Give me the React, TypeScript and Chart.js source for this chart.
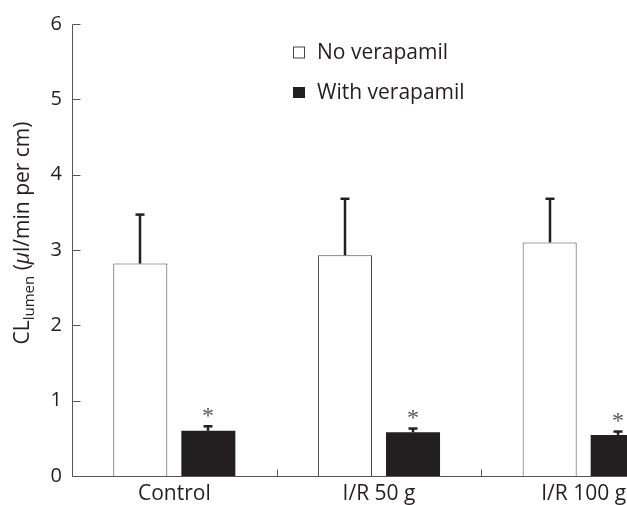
import { useEffect, useRef } from "react";
import { Chart, registerables } from "chart.js";

Chart.register(...registerables);

const categories = ["Control", "I/R 50 g", "I/R 100 g"];
const seriesNames = ["No verapamil", "With verapamil"];
const noVerapamil = [2.82, 2.93, 3.1];
const noVerapamilErr = [0.65, 0.75, 0.58];
const withVerapamil = [0.6, 0.58, 0.545];
const withVerapamilErr = [0.06, 0.05, 0.045];
const significant = [true, true, true];
const yTicks = [0, 1, 2, 3, 4, 5, 6];

const INK = "#231f20";
const AXIS = "#555555";
const FONT = "'Open Sans', 'Noto Sans', sans-serif";

const values = [noVerapamil, withVerapamil];
const errors = [noVerapamilErr, withVerapamilErr];

const customPlugin = {
  id: "customDraw",
  afterDatasetsDraw(chart: any) {
    const ctx = chart.ctx;
    const y = chart.scales.y;
    ctx.save();
    ctx.strokeStyle = INK;
    ctx.lineCap = "butt";
    [0, 1].forEach((di) => {
      const meta = chart.getDatasetMeta(di);
      meta.data.forEach((bar: any, i: number) => {
        const v = values[di][i];
        const e = errors[di][i];
        const px = Math.round(bar.x);
        const base = y.getPixelForValue(v);
        const top = y.getPixelForValue(v + e);
        ctx.lineWidth = 2.5;
        ctx.beginPath();
        ctx.moveTo(px, base);
        ctx.lineTo(px, top);
        ctx.stroke();
        ctx.beginPath();
        ctx.moveTo(px - 4.5, top);
        ctx.lineTo(px + 4.5, top);
        ctx.stroke();
        if (di === 1 && significant[i]) {
          ctx.fillStyle = "#555";
          ctx.font = "24px 'Liberation Serif', serif";
          ctx.textAlign = "center";
          ctx.textBaseline = "middle";
          ctx.fillText("*", px, top - 10);
        }
      });
    });
    ctx.restore();
  },
  afterDraw(chart: any) {
    const ctx = chart.ctx;
    const x = chart.scales.x;
    const y = chart.scales.y;
    const area = chart.chartArea;
    ctx.save();
    ctx.strokeStyle = AXIS;
    ctx.lineWidth = 1;
    const ax = Math.round(area.left) + 0.5;
    const y0 = Math.round(y.getPixelForValue(0)) + 0.5;
    ctx.beginPath();
    ctx.moveTo(ax, Math.round(y.getPixelForValue(yTicks[yTicks.length - 1])) + 0.5);
    ctx.lineTo(ax, y0);
    ctx.lineTo(chart.width, y0);
    ctx.stroke();
    yTicks.forEach((t) => {
      const py = Math.round(y.getPixelForValue(t)) + 0.5;
      ctx.beginPath();
      ctx.moveTo(ax, py);
      ctx.lineTo(ax + 8, py);
      ctx.stroke();
    });
    for (let i = 0; i < categories.length - 1; i++) {
      const bx = Math.round((x.getPixelForValue(i) + x.getPixelForValue(i + 1)) / 2) + 0.5;
      ctx.beginPath();
      ctx.moveTo(bx, y0);
      ctx.lineTo(bx, y0 - 7);
      ctx.stroke();
    }
    const lx = 293;
    const rows = [52.5, 92];
    ctx.font = `21px ${FONT}`;
    ctx.textAlign = "left";
    ctx.textBaseline = "middle";
    seriesNames.forEach((name, i) => {
      const cy = rows[i];
      if (i === 0) {
        ctx.fillStyle = "#fff";
        ctx.fillRect(lx, cy - 6, 12, 12);
        ctx.strokeStyle = "#444";
        ctx.strokeRect(lx + 0.5, cy - 5.5, 11, 11);
      } else {
        ctx.fillStyle = INK;
        ctx.fillRect(lx, cy - 5, 12, 11);
      }
      ctx.fillStyle = INK;
      ctx.fillText(name, 317, cy + 1);
    });
    const big = `21px ${FONT}`;
    const small = `15px ${FONT}`;
    const ital = `italic 21px ${FONT}`;
    const parts = [
      { t: "CL", f: big, dy: 0 },
      { t: "lumen", f: small, dy: 5 },
      { t: " (", f: big, dy: 0 },
      { t: "\u03bc", f: ital, dy: 0 },
      { t: "l/min per cm)", f: big, dy: 0 },
    ];
    let total = 0;
    parts.forEach((p) => {
      ctx.font = p.f;
      total += ctx.measureText(p.t).width;
    });
    ctx.translate(29, 233);
    ctx.rotate(-Math.PI / 2);
    ctx.textBaseline = "alphabetic";
    ctx.textAlign = "left";
    ctx.fillStyle = INK;
    let cx = -total / 2;
    parts.forEach((p) => {
      ctx.font = p.f;
      ctx.fillText(p.t, cx, p.dy);
      cx += ctx.measureText(p.t).width;
    });
    ctx.restore();
  },
};

export default function App() {
  const ref = useRef<HTMLCanvasElement | null>(null);
  useEffect(() => {
    if (!ref.current) return;
    const chart = new Chart(ref.current, {
      type: "bar",
      data: {
        labels: categories,
        datasets: [
          {
            label: seriesNames[0],
            data: noVerapamil,
            backgroundColor: "#ffffff",
            borderColor: "#444444",
            borderWidth: 1,
            barPercentage: 0.794,
            categoryPercentage: 0.665,
          },
          {
            label: seriesNames[1],
            data: withVerapamil,
            backgroundColor: INK,
            borderWidth: 0,
            barPercentage: 0.794,
            categoryPercentage: 0.665,
          },
        ],
      },
      options: {
        responsive: false,
        animation: false,
        layout: { padding: { top: 24, left: 0, right: 0, bottom: 0 } },
        plugins: { legend: { display: false }, tooltip: { enabled: false } },
        scales: {
          x: {
            grid: { display: false, drawTicks: false },
            border: { display: false },
            ticks: { color: INK, font: { family: FONT, size: 21 }, padding: 5 },
            afterFit: (s: any) => {
              s.height = 29;
            },
          },
          y: {
            min: 0,
            max: 6,
            grid: { display: false, drawTicks: false },
            border: { display: false },
            ticks: {
              stepSize: 1,
              color: INK,
              font: { family: FONT, size: 20 },
              padding: 10,
            },
            afterFit: (s: any) => {
              s.width = 72;
            },
          },
        },
      },
      plugins: [customPlugin],
    });
    return () => chart.destroy();
  }, []);
  return (
    <div
      style={{
        position: "absolute",
        left: 0,
        top: 0,
        width: 627,
        height: 505,
        overflow: "hidden",
        background: "#fff",
      }}
    >
      <canvas ref={ref} width={686} height={505} style={{ display: "block" }} />
    </div>
  );
}
